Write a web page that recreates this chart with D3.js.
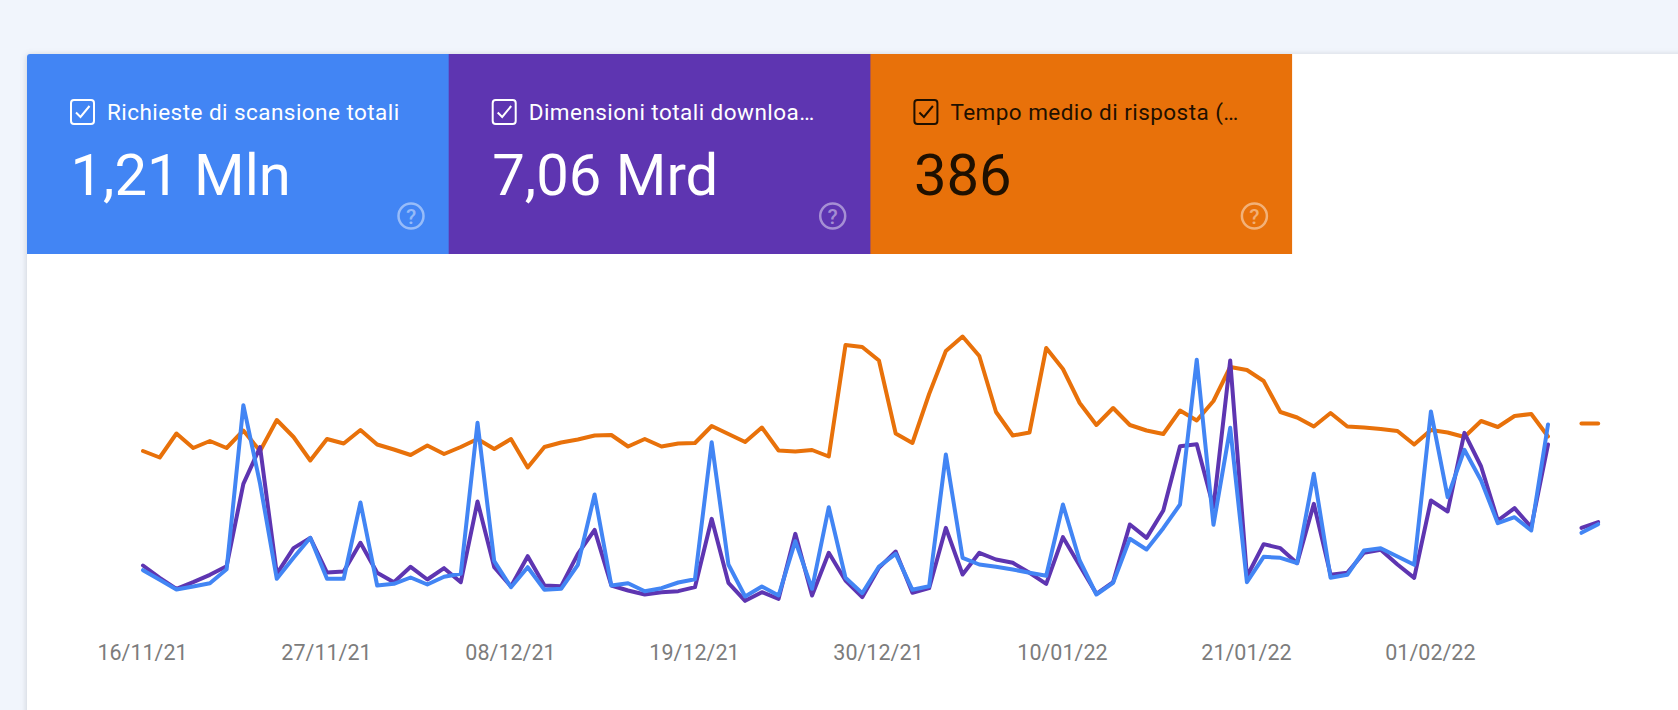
<!DOCTYPE html>
<html>
<head>
<meta charset="utf-8">
<script src="https://cdn.jsdelivr.net/npm/d3@7"></script>
<style>
  html, body { margin: 0; padding: 0; background: #f1f5fc; overflow: hidden; }
  svg { display: block; font-family: Roboto, sans-serif; }
  .tick text { font-family: Roboto, sans-serif; }
</style>
</head>
<body>
<svg id="chart" width="1678" height="710"></svg>
<script>
// tiles
const tileNames = ['Richieste di scansione totali', 'Dimensioni totali downloa…', 'Tempo medio di risposta (…'];
const tileValues = ['1,21 Mln', '7,06 Mrd', '386'];
const tileColors = ['#4285f4', '#5e35b1', '#e8710a'];
const tileInk = ['#fff', '#fff', '#1f1000'];

// x axis
const startDate = '16/11/21';
const tickLabels = ['16/11/21', '27/11/21', '08/12/21', '19/12/21', '30/12/21', '10/01/22', '21/01/22', '01/02/22'];
const tailDates = ['10/02/22', '11/02/22'];

// daily crawl requests
const requests = [10060, 8140, 6200, 6800, 7460, 10260, 43060, 27340, 8340, 12540, 16540, 8340, 8340, 23600, 7000, 7340, 8600, 7200, 8740, 9340, 39540, 11860, 6660, 10660, 6140, 6340, 11140, 25200, 7000, 7460, 5860, 6460, 7600, 8260, 35660, 11200, 4800, 6800, 5000, 15860, 6340, 22660, 8540, 5460, 10800, 13340, 6140, 6860, 33200, 12540, 11200, 10740, 10200, 9540, 8940, 23200, 12000, 5200, 7540, 16340, 14200, 18460, 23200, 52140, 19140, 38540, 7660, 12740, 12540, 11460, 29340, 8540, 9140, 14000, 14460, 12800, 11140, 41800, 24660, 34140, 28000, 19460, 20660, 18000, 39200];
const requestsTail = [17540, 19260];

// daily download size, MB
const downloads = [82.5, 64, 47.5, 57.5, 68.5, 81.5, 205, 260, 70, 108.5, 124, 72, 73.5, 116.5, 71.5, 57.5, 80.5, 61.5, 78.5, 57.5, 178.5, 80, 51, 96.5, 52.5, 51.5, 100, 136, 52.5, 45, 39, 42.5, 44, 50, 152.5, 56.5, 29.5, 42.5, 32.5, 130, 37.5, 101.5, 60, 35, 79, 103.5, 41.5, 48.5, 139, 69, 101.5, 91.5, 86.5, 71.5, 55, 125, 82.5, 40, 57.5, 144, 124, 165, 261.5, 264.5, 170, 390, 66, 114.5, 108.5, 86, 175, 68.5, 71.5, 101.5, 106, 84, 64, 180, 163.5, 281.5, 231, 150, 168.5, 140, 264];
const downloadsTail = [139, 147.5];

// average response time, ms
const responseTimes = [339, 326, 374, 345, 359, 345, 380, 339, 401, 367, 320, 363, 354, 381, 352, 342, 331, 350, 333, 347, 363, 343, 363, 306, 347, 356, 362, 370, 371, 348, 363, 348, 354, 355, 389, 373, 357, 386, 340, 338, 341, 328, 551, 547, 520, 374, 355, 453, 539, 568, 529, 417, 370, 376, 545, 503, 435, 391, 425, 391, 380, 373, 420, 400, 439, 507, 501, 479, 417, 406, 388, 415, 388, 386, 383, 379, 352, 381, 376, 367, 399, 387, 409, 413, 368];
const responseTail = [394, 394];

const width = 1678, height = 710;
const card = { x: 27, y: 54 };
const tile = { width: 421.7, height: 200 };
const plot = { left: 143, right: 1548, top: 330.5, bottom: 620.5 };

const parseDate = d3.timeParse('%d/%m/%y');
const formatDate = d3.timeFormat('%d/%m/%y');
const first = parseDate(startDate);

const x = d3.scaleTime()
  .domain([first, d3.timeDay.offset(first, requests.length - 1)])
  .range([plot.left, plot.right]);

// each metric has its own hidden y scale
const yRequests = d3.scaleLinear().domain([0, 58000]).range([plot.bottom, plot.top]);
const yDownloads = d3.scaleLinear().domain([0, 435]).range([plot.bottom, plot.top]);
const yResponse = d3.scaleLinear().domain([0, 580]).range([plot.bottom, plot.top]);

const svg = d3.select('#chart');

// card
svg.append('path')
  .attr('d', `M${card.x},${height + 10}V${card.y + 3}q0,-3 3,-3H${width + 10}V${height + 10}Z`)
  .attr('fill', '#fff')
  .style('filter', 'drop-shadow(0 1px 3px rgba(60,64,67,.22))');

// tiles
const tiles = svg.selectAll('g.tile')
  .data(tileNames)
  .enter()
  .append('g')
  .attr('class', 'tile')
  .attr('transform', (d, i) => `translate(${card.x + i * tile.width},${card.y})`);

tiles.append('path')
  .attr('d', (d, i) => i === 0
    ? `M0,${tile.height}V3q0,-3 3,-3H${tile.width + 1}V${tile.height}Z`
    : `M0,0H${tile.width + (i === 1 ? 1 : 0)}V${tile.height}H0Z`)
  .attr('fill', (d, i) => tileColors[i]);

// checkbox
tiles.append('rect')
  .attr('x', 44)
  .attr('y', 46)
  .attr('width', 23)
  .attr('height', 24)
  .attr('rx', 3)
  .attr('fill', 'none')
  .attr('stroke', (d, i) => tileInk[i])
  .attr('stroke-width', 2);

tiles.append('path')
  .attr('d', 'M49,58.5l4.5,4.5l9,-11')
  .attr('fill', 'none')
  .attr('stroke', (d, i) => tileInk[i])
  .attr('stroke-width', 2);

tiles.append('text')
  .text(d => d)
  .attr('x', 80)
  .attr('y', 66)
  .attr('font-size', 22.5)
  .attr('letter-spacing', 0.45)
  .attr('fill', (d, i) => tileInk[i]);

tiles.append('text')
  .text((d, i) => tileValues[i])
  .attr('x', 43.5)
  .attr('y', 141)
  .attr('font-size', 58)
  .attr('fill', (d, i) => tileInk[i]);

// help icon
tiles.append('circle')
  .attr('cx', 384)
  .attr('cy', 162)
  .attr('r', 12.5)
  .attr('fill', 'none')
  .attr('stroke', '#fff')
  .attr('stroke-opacity', 0.45)
  .attr('stroke-width', 2.5);

tiles.append('text')
  .text('?')
  .attr('x', 384)
  .attr('y', 169.5)
  .attr('text-anchor', 'middle')
  .attr('font-size', 21)
  .attr('font-weight', 500)
  .attr('fill', '#fff')
  .attr('fill-opacity', 0.45);

// x axis
const xAxis = d3.axisBottom(x)
  .tickValues(tickLabels.map(parseDate))
  .tickFormat(formatDate)
  .tickSize(0)
  .tickPadding(0);

const axisG = svg.append('g')
  .attr('transform', 'translate(-1,645)')
  .call(xAxis);

axisG.select('.domain').remove();
axisG.selectAll('text')
  .attr('fill', '#7c7c7c')
  .style('font-size', '21.5px');

// lines, drawn back to front
const series = [
  { values: responseTimes, tail: responseTail, y: yResponse, color: tileColors[2] },
  { values: downloads, tail: downloadsTail, y: yDownloads, color: tileColors[1] },
  { values: requests, tail: requestsTail, y: yRequests, color: tileColors[0] }
];

series.forEach(s => {
  const line = d3.line()
    .x(d => x(d.date))
    .y(d => s.y(d.value));

  const main = s.values.map((v, i) => ({ date: d3.timeDay.offset(first, i), value: v }));
  const tail = s.tail.map((v, i) => ({ date: parseDate(tailDates[i]), value: v }));

  [main, tail].forEach(points => {
    svg.append('path')
      .attr('d', line(points))
      .attr('fill', 'none')
      .attr('stroke', s.color)
      .attr('stroke-width', 4)
      .attr('stroke-linejoin', 'round')
      .attr('stroke-linecap', 'round');
  });
});
</script>
</body>
</html>
